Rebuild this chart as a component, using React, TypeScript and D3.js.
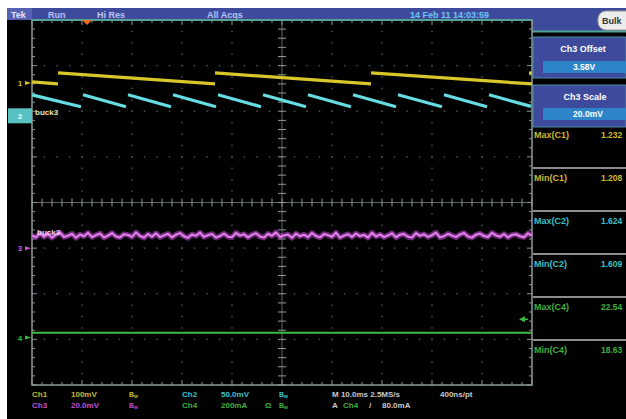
import React from "react";
import * as d3 from "d3";

const W = 626;
const H = 419;

// ---- channel settings ----
const channelNames = ["Ch1", "Ch2", "Ch3", "Ch4"];
const channelScaleText = ["100mV", "50.0mV", "20.0mV", "200mA"];
const channelColors = ["#d9c62b", "#66dde2", "#cf58d8", "#3fbb3f"];
const channelTextColors = ["#cdb92c", "#3cc0c8", "#c050d0", "#3fb03f"];
const chPerDiv = [0.1, 0.05, 0.02, 0.2];
const chOffset = [1.21, 1.6, 3.58, 0];
const chPosition = [2.62, 1.9, -1.0, -2.96];

// ---- Ch1 (yellow) ramps, time in ms ----
const ch1RampStart = [-11, -5.8, 25.6, 56.8];
const ch1RampEnd = [-5.8, 25.6, 56.8, 89];
const ch1StartVolts = [1.2125, 1.232, 1.232, 1.232];
const ch1EndVolts = [1.208, 1.208, 1.208, 1.2078];

// ---- Ch2 (cyan) ramps ----
const ch2RampStart = [-11, -1.0, 8.0, 17.0, 26.0, 35.0, 44.0, 53.0, 62.0, 71.2, 80.2];
const ch2RampEnd = [-1.0, 8.0, 17.0, 26.0, 35.0, 44.0, 53.0, 62.0, 71.2, 80.2, 89];
const ch2StartVolts = [1.623, 1.623, 1.623, 1.623, 1.623, 1.623, 1.623, 1.623, 1.623, 1.623, 1.623];
const ch2EndVolts = [1.61, 1.61, 1.61, 1.61, 1.61, 1.61, 1.61, 1.61, 1.61, 1.61, 1.6103];

// ---- Ch3 (magenta) samples, mV above 3.58 V offset, every 0.8 ms from -11 ms ----
const ch3StartMs = -11;
const ch3StepMs = 0.8;
const ch3Millivolts = [
  5.6, 4.7, 6.5, 5.0, 6.2, 4.6, 5.9, 6.8, 4.9, 5.4, 6.3, 4.5, 6.0, 5.2, 6.7, 4.8, 5.7, 6.4, 4.6, 5.5,
  6.6, 5.1, 4.7, 6.1, 5.8, 4.9, 6.9, 5.3, 4.6, 6.2, 5.0, 6.5, 4.8, 5.6, 6.3, 4.7, 5.9, 6.6, 5.2, 4.5,
  6.0, 5.4, 6.8, 4.9, 5.7, 6.2, 4.6, 5.3, 6.4, 5.0, 4.8, 6.7, 5.5, 6.1, 4.7, 5.8, 6.5, 5.1, 4.6, 6.3,
  5.4, 6.9, 4.9, 5.6, 6.0, 4.5, 6.4, 5.2, 5.9, 4.8, 6.6, 5.3, 4.7, 6.2, 5.7, 5.0, 6.8, 4.6, 5.5, 6.1,
  4.9, 6.4, 5.3, 5.8, 4.6, 6.7, 5.1, 6.0, 4.8, 5.6, 6.5, 4.7, 5.9, 6.2, 5.0, 4.6, 6.6, 5.4, 6.1, 4.9,
  5.7, 6.8, 4.7, 5.2, 6.3, 5.5, 4.8, 6.0, 6.6, 5.1, 4.6, 5.9, 6.4, 5.3, 4.9, 6.7, 5.6, 5.0, 6.2, 4.7,
  5.8, 6.1, 5.2, 4.8, 6.5, 5.5,
];

// ---- Ch4 (green) samples, mA, every 5 ms from -11 ms ----
const ch4StartMs = -11;
const ch4StepMs = 5;
const ch4Milliamps = [21.0, 20.7, 21.2, 20.9, 21.1, 20.6, 21.0, 21.3, 20.8, 21.0, 20.9, 21.2, 20.7, 21.0, 21.1, 20.8, 21.0, 21.2, 20.9, 21.0, 21.1];

// ---- measurements ----
const measLabels = ["Max(C1)", "Min(C1)", "Max(C2)", "Min(C2)", "Max(C4)", "Min(C4)"];
const measValues = ["1.232", "1.208", "1.624", "1.609", "22.54", "18.63"];
const measChannel = [0, 0, 1, 1, 3, 3];

// ---- header / status texts ----
const headerTexts = ["Run", "Hi Res", "All Acqs"];
const dateText = "14 Feb 11 14:03:59";
const timebaseText = "M 10.0ms 2.5MS/s";
const recordText = "400ns/pt";
const triggerLevelText = "80.0mA";
const triggerTimeMs = 0;
const triggerLevelAmps = 0.08;

const FONT = "'Liberation Sans', Arial, sans-serif";

export default function App() {
  const gx0 = 32, gx1 = 532, gy0 = 20, gy1 = 385;
  const divX = d3.scaleLinear().domain([0, 10]).range([gx0, gx1]);
  const divY = d3.scaleLinear().domain([-4, 4]).range([gy1, gy0]);
  const tScale = d3.scaleLinear().domain([-11, 89]).range([gx0, gx1]);
  const chanY = (v: number, c: number) => divY(chPosition[c] + (v - chOffset[c]) / chPerDiv[c]);

  const line = d3.line<[number, number]>().x((d) => d[0]).y((d) => d[1]);

  // grid dots
  const dots: JSX.Element[] = [];
  const divW = (gx1 - gx0) / 10;
  const divH = (gy1 - gy0) / 8;
  for (let k = 1; k < 10; k++) {
    if (k === 5) continue;
    const x = divX(k);
    for (let m = 0; m <= 32; m++) {
      const y = gy0 + (m * divH) / 4;
      dots.push(<rect key={`v${k}-${m}`} x={x - 0.75} y={y - 0.75} width={1.5} height={1.5} fill="#475050" />);
    }
  }
  for (let j = -3; j <= 3; j++) {
    if (j === 0) continue;
    const y = divY(j);
    for (let m = 0; m <= 40; m++) {
      const x = gx0 + (m * divW) / 4;
      dots.push(<rect key={`h${j}-${m}`} x={x - 0.75} y={y - 0.75} width={1.5} height={1.5} fill="#475050" />);
    }
  }

  // ticks
  const ticks: JSX.Element[] = [];
  const cx = divX(5), cy = divY(0);
  for (let m = 0; m <= 50; m++) {
    const x = gx0 + (m * divW) / 5;
    const major = m % 5 === 0;
    const len = major ? 5 : 3;
    ticks.push(<line key={`tt${m}`} x1={x} x2={x} y1={gy0} y2={gy0 + len} stroke="#8a9696" strokeWidth={1} />);
    ticks.push(<line key={`tb${m}`} x1={x} x2={x} y1={gy1} y2={gy1 - len} stroke="#8a9696" strokeWidth={1} />);
    ticks.push(<line key={`tc${m}`} x1={x} x2={x} y1={cy - 4} y2={cy + 4} stroke="#8e9a9a" strokeWidth={1} />);
  }
  for (let m = 0; m <= 40; m++) {
    const y = gy0 + (m * divH) / 5;
    const major = m % 5 === 0;
    const len = major ? 5 : 3;
    ticks.push(<line key={`tl${m}`} y1={y} y2={y} x1={gx0} x2={gx0 + len} stroke="#8a9696" strokeWidth={1} />);
    ticks.push(<line key={`tr${m}`} y1={y} y2={y} x1={gx1} x2={gx1 - len} stroke="#8a9696" strokeWidth={1} />);
    ticks.push(<line key={`tm${m}`} y1={y} y2={y} x1={cx - 4} x2={cx + 4} stroke="#8e9a9a" strokeWidth={1} />);
  }

  const ch1Paths = ch1RampStart.map((t0, i) =>
    line([
      [tScale(t0), chanY(ch1StartVolts[i], 0)],
      [tScale(ch1RampEnd[i]), chanY(ch1EndVolts[i], 0)],
    ])
  );
  const ch2Paths = ch2RampStart.map((t0, i) =>
    line([
      [tScale(t0) + (i === 0 ? 0 : 1), chanY(ch2StartVolts[i], 1)],
      [tScale(ch2RampEnd[i]) - 1, chanY(ch2EndVolts[i], 1)],
    ])
  );
  const ch3Path = line(
    ch3Millivolts.map((mv, i) => [tScale(ch3StartMs + i * ch3StepMs), chanY(chOffset[2] + mv / 1000, 2)] as [number, number])
  );
  const ch4Path = line(
    ch4Milliamps.map((ma, i) => [tScale(ch4StartMs + i * ch4StepMs), chanY(ma / 1000, 3)] as [number, number])
  );

  const markerY = chPosition.map((p) => divY(p));
  const trigX = tScale(triggerTimeMs);
  const trigLevelY = chanY(triggerLevelAmps, 3);

  const headerBlue = "#3e4a9c";
  const txt = { fontFamily: FONT, fontWeight: 700 } as const;

  return (
    <svg width={W} height={H} style={{ position: "absolute", left: 0, top: 0 }} xmlns="http://www.w3.org/2000/svg">
      <rect x={0} y={0} width={W} height={H} fill="#ffffff" />
      <rect x={7} y={8} width={W - 7} height={H - 8} fill="#000000" />

      {/* header */}
      <rect x={7} y={8} width={gx1 - 7} height={12} fill={headerBlue} />
      <rect x={7} y={8} width={25} height={12} fill="#5661b4" />
      <rect x={gx1} y={8} width={W - gx1} height={23} fill={headerBlue} />
      <line x1={gx1} x2={W} y1={31.5} y2={31.5} stroke="#4fa596" strokeWidth={2} />
      <text x={11} y={17.5} fontSize={9} fill="#dfe6ff" {...txt}>Tek</text>
      {headerTexts.map((s, i) => (
        <text key={s} x={[48, 97, 207][i]} y={17.5} fontSize={9} fill="#b8c4f4" {...txt}>{s}</text>
      ))}
      <text x={410} y={17.5} fontSize={9} fill="#6cc6f0" {...txt}>{dateText}</text>
      <rect x={598} y={11} width={40} height={19} rx={8} fill="#ececec" stroke="#9a9a9a" />
      <text x={602} y={24} fontSize={9} fill="#333" {...txt}>Bulk</text>

      {/* graticule */}
      {dots}
      <line x1={cx} x2={cx} y1={gy0} y2={gy1} stroke="#5c6666" strokeWidth={1} />
      <line x1={gx0} x2={gx1} y1={cy} y2={cy} stroke="#5c6666" strokeWidth={1} />
      {ticks}
      <rect x={gx0} y={gy0} width={gx1 - gx0} height={gy1 - gy0} fill="none" stroke="#8e9a9a" strokeWidth={1.5} />
      <line x1={gx0} x2={gx1} y1={gy0} y2={gy0} stroke="#54a394" strokeWidth={2} />

      {/* trigger position marker */}
      <polygon points={`${trigX - 5},${gy0} ${trigX + 5},${gy0} ${trigX},${gy0 + 5}`} fill="#ec6a1e" />

      {/* traces */}
      <path d={ch4Path ?? ""} fill="none" stroke={channelColors[3]} strokeWidth={2} />
      <path d={ch3Path ?? ""} fill="none" stroke="#b844c8" strokeWidth={5.5} strokeOpacity={0.6} strokeLinejoin="round" />
      <path d={ch3Path ?? ""} fill="none" stroke="#e283ec" strokeWidth={2} strokeLinejoin="round" />
      {ch1Paths.map((d, i) => (
        <path key={`c1${i}`} d={d ?? ""} fill="none" stroke={channelColors[0]} strokeWidth={3.2} />
      ))}
      {ch2Paths.map((d, i) => (
        <path key={`c2${i}`} d={d ?? ""} fill="none" stroke={channelColors[1]} strokeWidth={3.2} />
      ))}

      {/* trace labels */}
      <text x={35} y={115} fontSize={8} fill="#ece3a6" {...txt}>buck3</text>
      <text x={37} y={235} fontSize={8} fill="#f0d2f6" {...txt}>buck3</text>

      {/* channel ground markers */}
      {[0, 2, 3].map((c) => (
        <g key={`m${c}`}>
          <text x={20} y={markerY[c] + 3} fontSize={8} textAnchor="middle" fill={channelColors[c]} {...txt}>{c + 1}</text>
          <polygon points={`${25},${markerY[c] - 2} ${31},${markerY[c]} ${25},${markerY[c] + 2}`} fill={channelColors[c]} />
        </g>
      ))}
      <rect x={8} y={markerY[1] - 7.5} width={24} height={15} fill="#58c2c2" />
      <text x={20} y={markerY[1] + 3} fontSize={8} textAnchor="middle" fill="#eaffff" {...txt}>2</text>

      {/* trigger level marker */}
      <polygon points={`${519},${trigLevelY} ${525},${trigLevelY - 3} ${525},${trigLevelY + 3}`} fill={channelColors[3]} />
      <line x1={525} x2={528} y1={trigLevelY} y2={trigLevelY} stroke={channelColors[3]} strokeWidth={1.5} />
      <rect x={529} y={chanY(ch1StartVolts[1], 0) - 1.5} width={3} height={3} fill={channelColors[0]} />

      {/* right side panel */}
      <rect x={533} y={37} width={W - 533} height={41} fill={headerBlue} stroke="#4a8fa0" strokeWidth={1} />
      <text x={583} y={52} fontSize={9} textAnchor="middle" fill="#ffffff" {...txt}>Ch3 Offset</text>
      <rect x={543} y={61} width={W - 543} height={12} fill="#2e84c8" />
      <text x={584} y={70} fontSize={8.5} textAnchor="middle" fill="#ffffff" {...txt}>3.58V</text>

      <rect x={533} y={85} width={W - 533} height={42} fill={headerBlue} stroke="#4a8fa0" strokeWidth={1} />
      <text x={585} y={100} fontSize={9} textAnchor="middle" fill="#ffffff" {...txt}>Ch3 Scale</text>
      <rect x={543} y={108} width={W - 543} height={12} fill="#2e84c8" />
      <text x={588} y={117} fontSize={8.5} textAnchor="middle" fill="#ffffff" {...txt}>20.0mV</text>

      {measLabels.map((lab, i) => {
        const yc = 135 + i * 43;
        const col = channelTextColors[measChannel[i]];
        return (
          <g key={lab + i}>
            <text x={534} y={yc + 3} fontSize={9} fill={col} {...txt}>{lab}</text>
            <text x={601} y={yc + 3} fontSize={8.5} fill={col} {...txt}>{measValues[i]}</text>
            {i < measLabels.length - 1 && (
              <line x1={533} x2={W} y1={yc + 33} y2={yc + 33} stroke="#8c8c8c" strokeWidth={2} />
            )}
          </g>
        );
      })}

      {/* bottom channel info */}
      {[0, 1, 2, 3].map((c) => {
        const col = c % 2 === 0 ? 0 : 1;
        const row = c < 2 ? 0 : 1;
        const baseX = col === 0 ? 32 : 182;
        const y = 397 + row * 11;
        const color = channelTextColors[c];
        return (
          <g key={`ci${c}`}>
            <text x={baseX} y={y} fontSize={8} fill={color} {...txt}>{channelNames[c]}</text>
            <text x={baseX + 39} y={y} fontSize={8} fill={color} {...txt}>{channelScaleText[c]}</text>
            {c === 3 && <text x={265} y={y} fontSize={8} fill={color} {...txt}>Ω</text>}
            <text x={baseX + 97} y={y} fontSize={7} fill={color} {...txt}>B<tspan fontSize={5} dy={1}>w</tspan></text>
          </g>
        );
      })}
      <text x={332} y={397} fontSize={8} fill="#c8c8c8" {...txt}>{timebaseText}</text>
      <text x={440} y={397} fontSize={8} fill="#c8c8c8" {...txt}>{recordText}</text>
      <text x={332} y={408} fontSize={8} fill="#c8c8c8" {...txt}>A</text>
      <text x={343} y={408} fontSize={8} fill={channelTextColors[3]} {...txt}>{channelNames[3]}</text>
      <text x={369} y={408} fontSize={8} fill="#c8c8c8" {...txt}>/</text>
      <text x={382} y={408} fontSize={8} fill="#c8c8c8" {...txt}>{triggerLevelText}</text>
    </svg>
  );
}
